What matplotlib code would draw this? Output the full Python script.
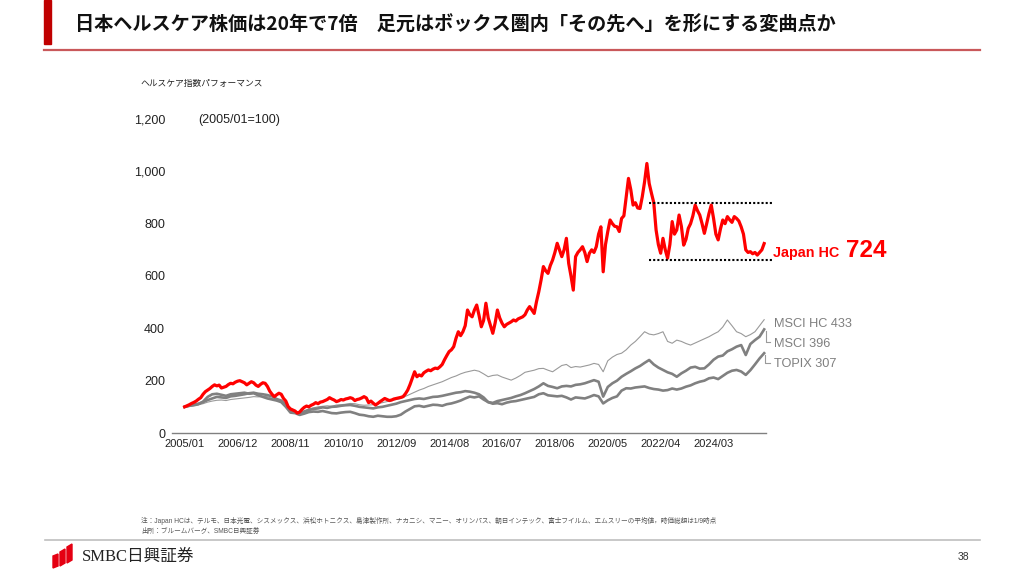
"""
日本ヘルスケア株価 vs MSCI / TOPIX (2005/01=100)
"""
import matplotlib
matplotlib.use('Agg')
import matplotlib.pyplot as plt
from matplotlib.patches import Polygon, Rectangle
from matplotlib.lines import Line2D
import numpy as np

plt.rcParams['font.family'] = ['Liberation Sans', 'Noto Sans CJK JP', 'DejaVu Sans']

# ---- data (2005/01=100) ----
# Japan HC: 月次 2005/01 .. 2026/01
jp_hc = [
    100, 104, 108, 113, 117, 122, 129, 135, 148, 158, 164, 170,   # 2005
    178, 184, 180, 183, 172, 175, 178, 185, 190, 188, 194, 198,   # 2006
    200, 196, 192, 184, 190, 196, 192, 183, 178, 186, 192, 190,   # 2007
    178, 160, 148, 139, 146, 152, 148, 132, 122, 101, 92, 88,     # 2008
    84, 76, 80, 90, 98, 103, 100, 106, 110, 116, 112, 118,        # 2009
    120, 124, 128, 135, 130, 126, 120, 123, 128, 126, 130, 132,   # 2010
    135, 132, 124, 128, 130, 134, 139, 134, 116, 122, 114, 107,   # 2011
    113, 120, 126, 132, 128, 124, 126, 130, 132, 134, 136, 139,   # 2012
    150, 164, 185, 210, 234, 215, 222, 218, 230, 236, 241, 238,   # 2013
    244, 248, 246, 253, 262, 280, 296, 311, 318, 330, 362, 387,   # 2014
    372, 387, 410, 470, 452, 444, 470, 489, 450, 406, 430, 496,   # 2015
    440, 410, 381, 420, 470, 440, 420, 406, 415, 420, 425, 432,   # 2016
    428, 436, 440, 444, 452, 470, 483, 470, 457, 502, 540, 585,   # 2017
    636, 620, 610, 640, 661, 690, 725, 700, 674, 700, 744, 648,   # 2018
    600, 546, 674, 690, 700, 712, 690, 655, 687, 700, 690, 712,   # 2019
    760, 788, 616, 720, 770, 814, 800, 790, 788, 770, 820, 830,   # 2020
    900, 973, 930, 871, 880, 860, 858, 903, 960, 1030, 954, 916,  # 2021
    880, 776, 720, 687, 744, 700, 668, 720, 808, 760, 776, 833,   # 2022
    790, 718, 740, 782, 800, 830, 871, 850, 833, 800, 763, 800,   # 2023
    839, 871, 820, 760, 738, 780, 814, 800, 827, 815, 805, 827,   # 2024
    820, 810, 788, 760, 700, 690, 693, 685, 690, 680, 690, 700,   # 2025
    724,                                                          # 2026/01
]
jp_months = list(range(len(jp_hc)))

# 他指数: 隔月 2005/01 .. 2026/01
idx_months = list(range(0, 253, 2))
msci_hc = [
    100, 103, 106, 108, 112, 118, 122, 125, 126, 124, 128, 130,
    132, 134, 136, 139, 138, 140, 139, 132, 124, 118, 104, 88,
    80, 76, 84, 92, 96, 100, 102, 104, 102, 107, 108, 110,
    113, 112, 108, 106, 107, 108, 112, 116, 120, 124, 128, 132,
    140, 148, 156, 164, 170, 178, 184, 190, 196, 204, 212, 218,
    226, 232, 236, 240, 236, 226, 215, 220, 222, 214, 208, 202,
    210, 220, 232, 236, 240, 246, 247, 240, 234, 246, 258, 262,
    250, 254, 252, 256, 260, 266, 262, 234, 276, 290, 300, 305,
    318, 336, 350, 368, 387, 378, 375, 380, 387, 350, 343, 355,
    350, 342, 336, 344, 352, 360, 368, 378, 387, 405, 432, 410,
    387, 380, 368, 376, 387, 410, 433,
]
msci = [
    100, 104, 108, 112, 118, 126, 132, 138, 136, 134, 140, 142,
    145, 148, 152, 154, 150, 148, 145, 140, 130, 124, 108, 84,
    80, 75, 82, 88, 92, 94, 98, 96, 100, 101, 104, 106,
    107, 104, 100, 98, 96, 94, 98, 100, 104, 108, 112, 118,
    122, 126, 130, 132, 130, 134, 138, 139, 142, 146, 150, 154,
    156, 160, 158, 154, 148, 136, 118, 115, 122, 126, 130, 134,
    140, 145, 152, 160, 168, 178, 190, 180, 176, 171, 178, 180,
    178, 184, 186, 190, 196, 202, 196, 139, 176, 190, 200, 215,
    226, 236, 247, 256, 268, 279, 262, 250, 241, 232, 226, 215,
    228, 238, 250, 253, 246, 247, 262, 280, 292, 296, 312, 320,
    330, 336, 298, 340, 355, 368, 396,
]
topix = [
    100, 104, 106, 110, 120, 138, 148, 150, 146, 142, 148, 150,
    152, 154, 150, 152, 144, 138, 132, 128, 124, 118, 100, 78,
    76, 69, 74, 80, 82, 81, 84, 80, 76, 75, 78, 80,
    81, 76, 70, 68, 64, 62, 66, 64, 62, 62, 64, 70,
    82, 92, 102, 104, 100, 104, 108, 107, 104, 110, 113, 118,
    124, 132, 139, 136, 140, 128, 118, 112, 114, 110, 116, 120,
    122, 126, 130, 134, 138, 148, 152, 144, 142, 140, 142, 136,
    128, 136, 134, 132, 138, 145, 140, 113, 125, 134, 140, 162,
    171, 170, 174, 176, 178, 172, 168, 166, 162, 164, 170, 166,
    170, 177, 182, 190, 196, 200, 209, 212, 206, 218, 230, 238,
    241, 235, 222, 240, 262, 285, 305,
]

tick_labels = ['2005/01', '2006/12', '2008/11', '2010/10', '2012/09', '2014/08',
               '2016/07', '2018/06', '2020/05', '2022/04', '2024/03']
tick_pos = [i * 23 for i in range(len(tick_labels))]
box_top, box_bottom = 878, 661   # ボックス圏

RED = '#ff0000'
GREY = '#808080'
LGREY = '#9a9a9a'
TXTGREY = '#7f7f7f'

W, H = 1024, 576
fig = plt.figure(figsize=(W / 100, H / 100), dpi=100)


def fx(px):
    return px / W


def fy(py):
    return 1 - py / H


# タイトル
fig.patches.append(Rectangle((fx(44), fy(44)), fx(7), 44 / H, color='#c00000',
                             transform=fig.transFigure))
fig.lines.append(Line2D([fx(44), fx(980)], [fy(50), fy(50)], color='#c9585a', lw=1.6,
                        transform=fig.transFigure))
fig.text(fx(75), fy(25), '日本ヘルスケア株価は20年で7倍　足元はボックス圏内「その先へ」を形にする変曲点か',
         fontsize=13.8, fontweight='bold', family=['Noto Sans CJK JP'], va='center', color='#111111')

# 軸
ax = fig.add_axes([fx(172), fy(433), (766 - 172) / W, (433 - 119) / H])
ax.plot(idx_months, msci_hc, color=LGREY, lw=0.8, zorder=2)
ax.plot(idx_months, topix, color=GREY, lw=1.9, zorder=3)
ax.plot(idx_months, msci, color=GREY, lw=1.9, zorder=3)
ax.plot(jp_months, jp_hc, color=RED, lw=2.3, zorder=4)

ax.plot([202, 255.4], [box_top, box_top], color='black', lw=1.5, ls=(0, (1, 1)), clip_on=False, zorder=5)
ax.plot([202, 255.4], [box_bottom, box_bottom], color='black', lw=1.5, ls=(0, (1, 1)), clip_on=False, zorder=5)

ax.set_xlim(-5.5, 252.8)
ax.set_ylim(0, 1200)
for s in ['left', 'right', 'top']:
    ax.spines[s].set_visible(False)
ax.spines['bottom'].set_color(GREY)
ax.spines['bottom'].set_linewidth(1.0)
ax.set_xticks(tick_pos)
ax.set_xticklabels(tick_labels, fontsize=8, color='#222222')
ax.set_yticks(range(0, 1201, 200))
ax.set_yticklabels([f'{v:,}' for v in range(0, 1201, 200)], fontsize=9, color='#222222')
ax.tick_params(axis='both', length=0)
ax.tick_params(axis='x', pad=4)
ax.tick_params(axis='y', pad=5)

# 系列ラベル
ax.text(255.9, 674, 'Japan HC', color=RED, fontsize=10.4, fontweight='bold', va='baseline')
ax.text(287.6, 674, '724', color=RED, fontsize=17.5, fontweight='bold', va='baseline')
ax.text(256.3, 404, 'MSCI HC 433', color=TXTGREY, fontsize=9.2, va='baseline')
ax.text(256.3, 330, 'MSCI 396', color=TXTGREY, fontsize=9.2, va='baseline')
ax.text(256.3, 251, 'TOPIX 307', color=TXTGREY, fontsize=9.2, va='baseline')
ax.plot([252.6, 252.6, 254.6], [388, 346, 346], color=LGREY, lw=0.8, clip_on=False)
ax.plot([252.3, 252.3, 254.6], [298, 268, 268], color=LGREY, lw=0.8, clip_on=False)

fig.text(fx(140), fy(83), 'ヘルスケア指数パフォーマンス', fontsize=6.3, va='center', color='#222222')
fig.text(fx(198), fy(120), '(2005/01=100)', fontsize=9, va='center', color='#222222')

# 注記
fig.text(fx(141), fy(521), '注：Japan HCは、テルモ、日本光電、シスメックス、浜松ホトニクス、島津製作所、ナカニシ、マニー、'
         'オリンパス、朝日インテック、富士フイルム、エムスリーの平均値，時価総額は1/9時点',
         fontsize=4.8, va='center', color='#555555')
fig.text(fx(141), fy(531), '出所：ブルームバーグ、SMBC日興証券', fontsize=4.8, va='center', color='#555555')

# フッター
fig.lines.append(Line2D([fx(45), fx(980)], [fy(540), fy(540)], color='#bfbfbf', lw=1.2,
                        transform=fig.transFigure))
logo = [
    [(53, 556), (58, 554), (58, 566), (53, 568)],
    [(60, 552), (65, 549), (65, 563), (60, 566)],
    [(67, 547), (72, 544), (72, 560), (67, 563)],
]
for pts in logo:
    fig.patches.append(Polygon([(fx(x), fy(y)) for x, y in pts], closed=True, color='#e50012',
                               transform=fig.transFigure))
fig.text(fx(82), fy(557), 'SMBC日興証券', fontsize=12, va='center', color='#222222',
         family=['Liberation Serif', 'Noto Sans CJK JP'])
fig.text(fx(958), fy(557), '38', fontsize=7.5, va='center', color='#333333')

fig.savefig('out.png', dpi=100)
